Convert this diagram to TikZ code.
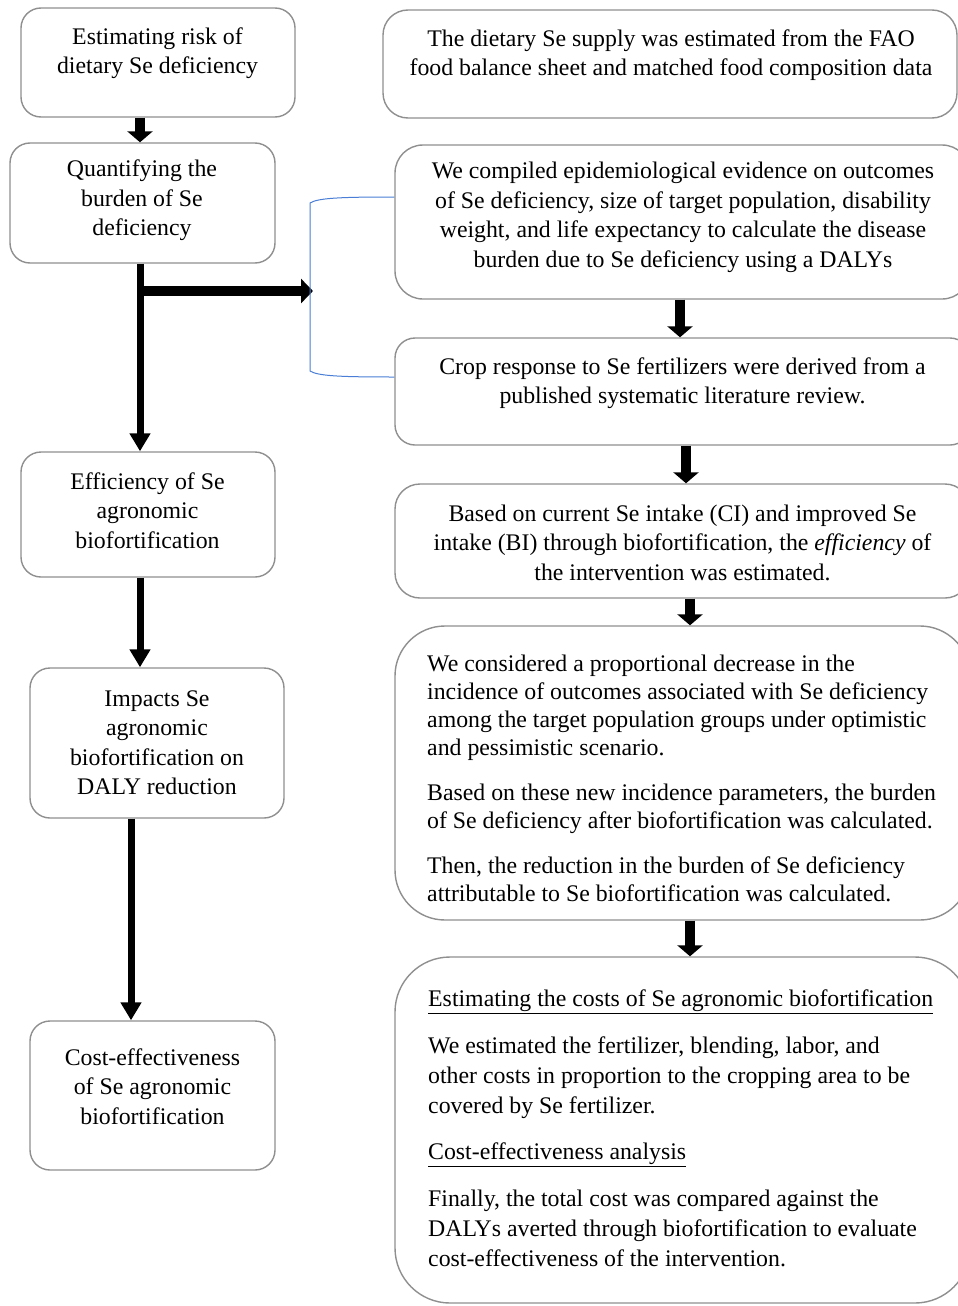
\documentclass[tikz,border=0pt]{standalone}
\usepackage{fontspec}
\setmainfont{Liberation Serif}
\usetikzlibrary{arrows.meta}
\definecolor{boxgray}{HTML}{8F8F8F}
\definecolor{brblue}{HTML}{4A7ED6}
\tikzset{
  box/.style={draw=boxgray, line width=1.4pt, rounded corners=#1, inner sep=0pt},
  box/.default=20pt,
  txt/.style={align=center, inner sep=0pt, font=\fontsize{23.8}{29.5}\selectfont},
  ltxt/.style={align=left, inner sep=0pt, anchor=west},
  bigarrow/.style={line width=7pt, -{Triangle[width=20pt,length=18pt]}},
  shortarrow/.style={line width=10pt, -{Triangle[width=25pt,length=11pt]}},
  bracket/.style={draw=brblue, line width=1pt},
}
\begin{document}
\begin{tikzpicture}[x=1pt,y=-1pt]
\path[use as bounding box, fill=white] (0,0) rectangle (958,1306);
\clip (0,0) rectangle (958,1306);

% left column boxes
\node[box, minimum width=274pt, minimum height=109pt] (a) at (158,62.5) {};
\node[txt] (ta) at (157.5,53) {Estimating risk of\\dietary Se deficiency};
\node[box, minimum width=265pt, minimum height=120pt] (b) at (142.5,203) {};
\node[txt] (tb) at (142,200.5) {Quantifying the\\burden of Se\\deficiency};
\node[box, minimum width=254pt, minimum height=125pt] (c) at (148,514.5) {};
\node[txt] (tc) at (147.5,510.5) {Efficiency of Se\\agronomic\\biofortification};
\node[box, minimum width=254pt, minimum height=150pt] (d) at (157,743) {};
\node[txt] (td) at (157,742.5) {Impacts Se\\agronomic\\biofortification on\\DALY reduction};
\node[box, minimum width=245pt, minimum height=149pt] (e) at (152.5,1095.5) {};
\node[txt] (te) at (152.5,1086.5) {Cost-effectiveness\\of Se agronomic\\biofortification};

% right column boxes
\node[box=25pt, minimum width=574pt, minimum height=108pt] (r1) at (670,64) {};
\node[txt] (t1) at (671,55) {The dietary Se supply was estimated from the FAO\\food balance sheet and matched food composition data};
\node[box=28pt, minimum width=575pt, minimum height=154pt] (r2) at (682.5,222) {};
\node[txt] (t2) at (683,217.5) {We compiled epidemiological evidence on outcomes\\of Se deficiency, size of target population, disability\\weight, and life expectancy to calculate the disease\\burden due to Se deficiency using a DALYs};
\node[box=20pt, minimum width=575pt, minimum height=107pt] (r3) at (682.5,391.5) {};
\node[txt] (t3) at (682.5,383) {Crop response to Se fertilizers were derived from a\\published systematic literature review.};
\node[box=25pt, minimum width=575pt, minimum height=114pt] (r4) at (682.5,541) {};
\node[txt] (t4) at (682.5,542.5) {Based on current Se intake (CI) and improved Se\\intake (BI) through biofortification, the \textit{efficiency} of\\the intervention was estimated.};
\node[box=50pt, minimum width=575pt, minimum height=294pt] (r5) at (682.5,773) {};
\node[txt, ltxt, font=\fontsize{23.8}{28}\selectfont] (t5) at (427,778) {We considered a proportional decrease in the\\incidence of outcomes associated with Se deficiency\\among the target population groups under optimistic\\and pessimistic scenario.\\[17pt]Based on these new incidence parameters, the burden\\of Se deficiency after biofortification was calculated.\\[17pt]Then, the reduction in the burden of Se deficiency\\attributable to Se biofortification was calculated.};
\node[box=55pt, minimum width=575pt, minimum height=346pt] (r6) at (682.5,1130) {};
\node[txt, ltxt, font=\fontsize{23.8}{30}\selectfont] (t6) at (428,1128) {\underline{Estimating the costs of Se agronomic biofortification}\\[17pt]We estimated the fertilizer, blending, labor, and\\other costs in proportion to the cropping area to be\\covered by Se fertilizer.\\[16pt]\underline{Cost-effectiveness analysis}\\[17pt]Finally, the total cost was compared against the\\DALYs averted through biofortification to evaluate\\cost-effectiveness of the intervention.};

% left connectors
\draw[shortarrow] ([xshift=-18pt]a.south) -- ([xshift=-2.5pt]b.north);
\draw[bigarrow] ([xshift=-2.5pt]b.south) -- ([xshift=-8pt]c.north);
\coordinate (brk) at (313,291);
\draw[line width=10pt, -{Triangle[width=24pt,length=12pt]}] ([xshift=-2.5pt]b.south |- brk) -- (brk);
\draw[bigarrow] ([xshift=-8pt]c.south) -- ([xshift=-17pt]d.north);
\draw[bigarrow] ([xshift=-26pt]d.south) -- ([xshift=-21.5pt]e.north);

% bracket
\draw[bracket] (r2.west |- 0,197) .. controls (340,197) and (318,198) .. (310,203) -- (310,371) .. controls (318,376) and (340,377) .. (r3.west |- 0,377);

% right connectors
\draw[shortarrow] ([xshift=-2.5pt]r2.south) -- ([xshift=-2.5pt]r3.north);
\draw[shortarrow] ([xshift=3.5pt]r3.south) -- ([xshift=3.5pt]r4.north);
\draw[shortarrow] ([xshift=7.5pt]r4.south) -- ([xshift=7.5pt]r5.north);
\draw[shortarrow] ([xshift=7.5pt]r5.south) -- ([xshift=7.5pt]r6.north);
\end{tikzpicture}
\end{document}
